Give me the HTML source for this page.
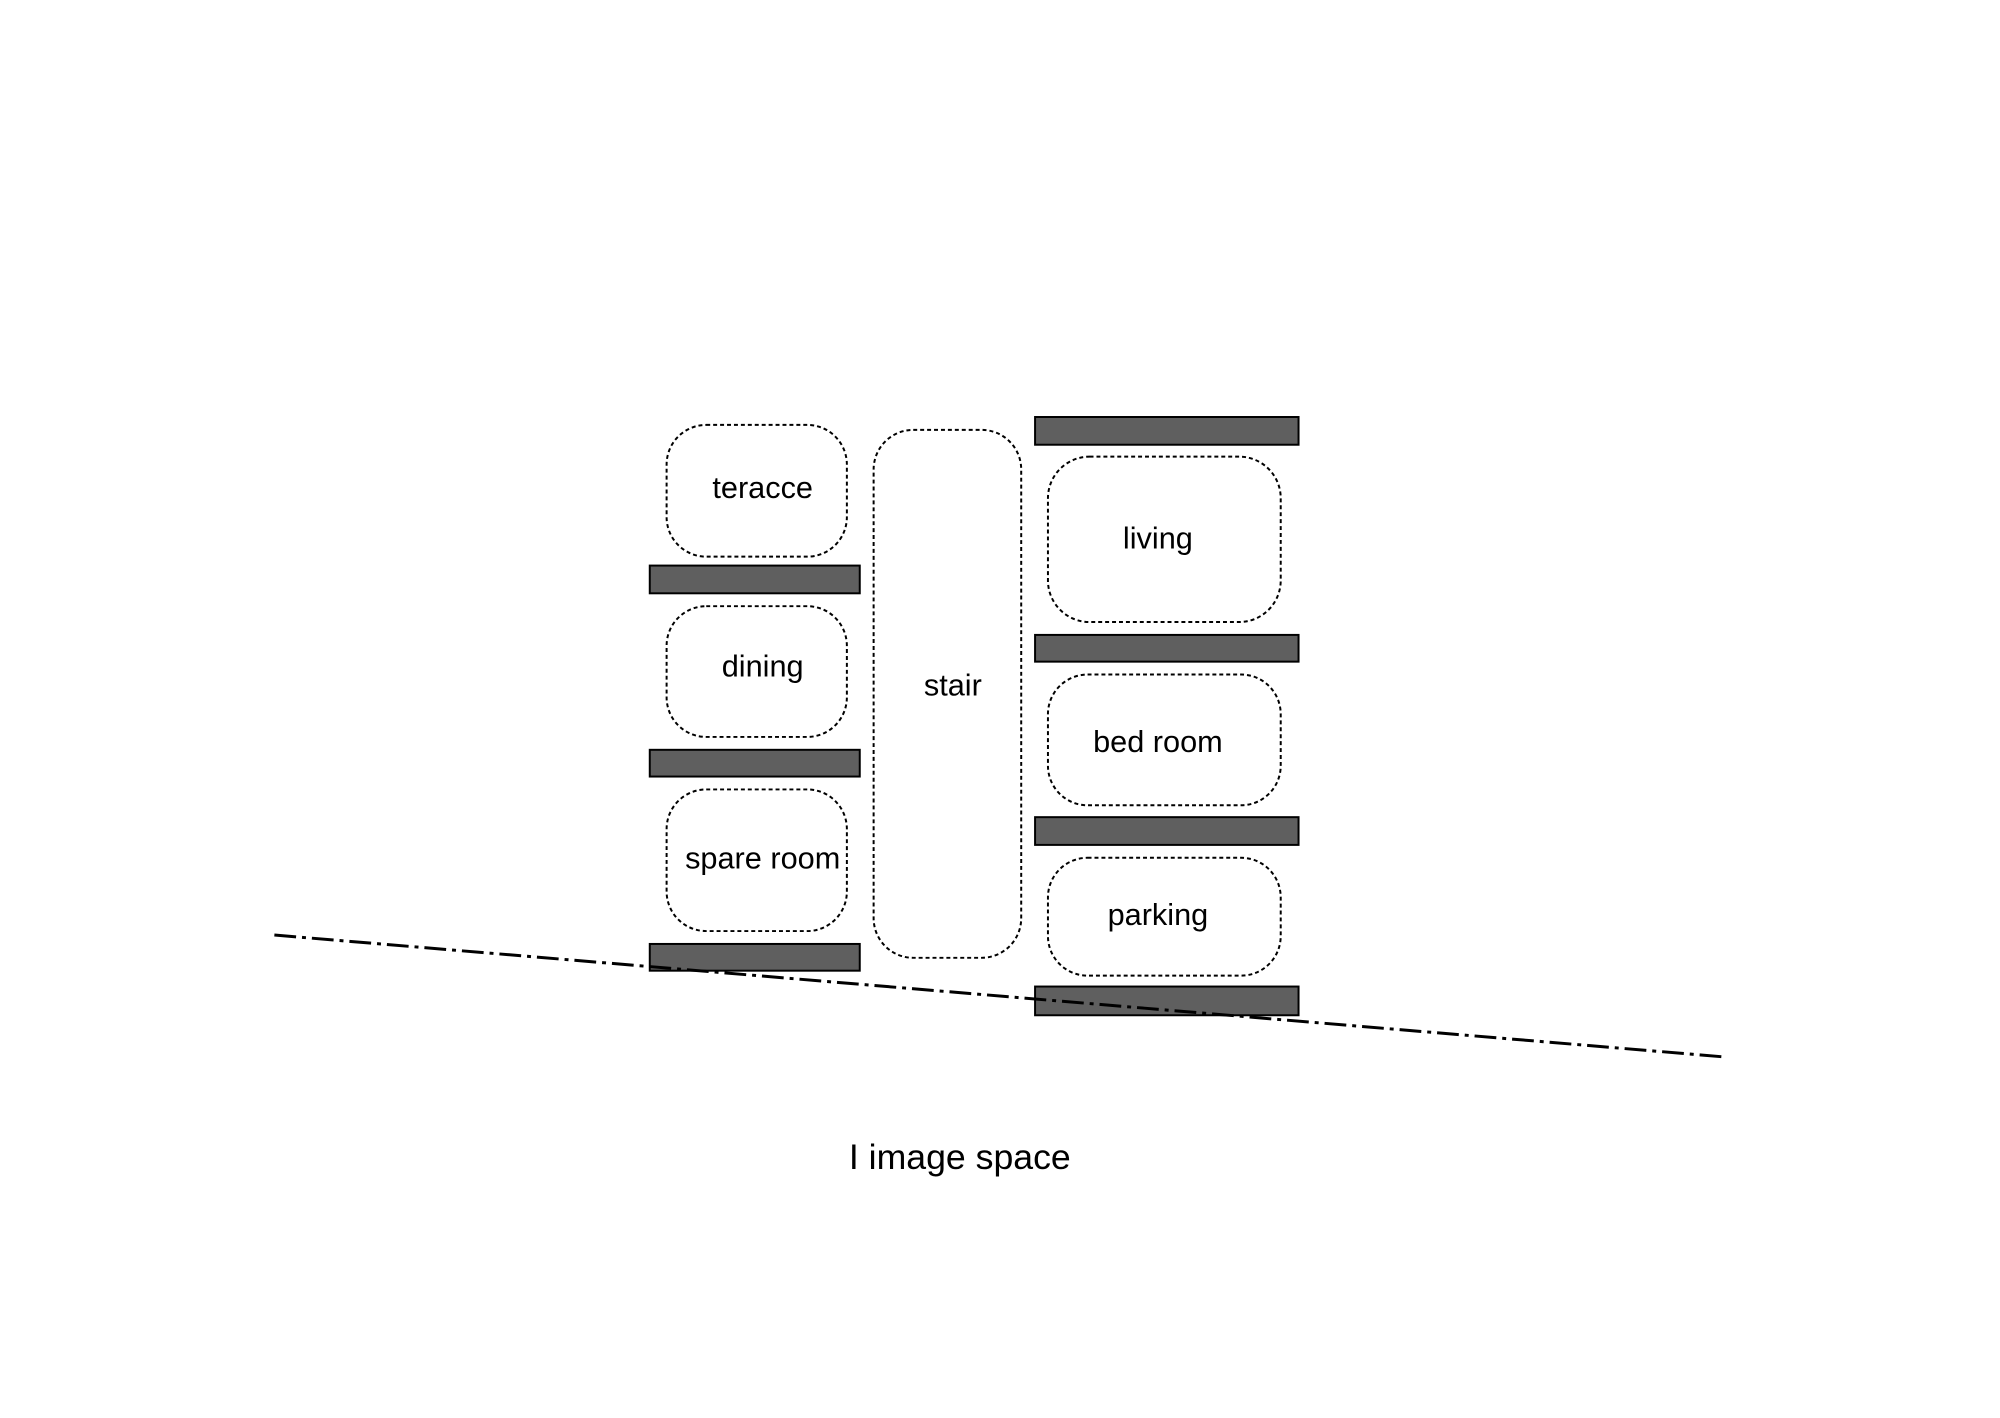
<!DOCTYPE html>
<html><head><meta charset="utf-8"><style>body{margin:0;background:#fff}</style></head><body>
<svg width="2000" height="1413" xmlns="http://www.w3.org/2000/svg" font-family="Liberation Sans, sans-serif">
<rect width="2000" height="1413" fill="#fff"/>
<g transform="scale(0.9905)">
<g fill="none" stroke="#000" stroke-width="2" stroke-dasharray="4,3">
<rect x="673" y="429" width="182" height="133" rx="40"/>
<rect x="673" y="612" width="182" height="132" rx="40"/>
<rect x="673" y="797" width="182" height="143" rx="40"/>
<rect x="882" y="434" width="149" height="533" rx="40"/>
<rect x="1058" y="461" width="235" height="167" rx="42"/>
<rect x="1058" y="681" width="235" height="132" rx="40"/>
<rect x="1058" y="866" width="235" height="119" rx="40"/>
</g>
<g fill="#5f5f5f" stroke="#000" stroke-width="2">
<rect x="656" y="571" width="212" height="28"/>
<rect x="656" y="757" width="212" height="27"/>
<rect x="656" y="953" width="212" height="27"/>
<rect x="1045" y="421" width="266" height="28"/>
<rect x="1045" y="641" width="266" height="27"/>
<rect x="1045" y="825" width="266" height="28"/>
<rect x="1045" y="996" width="266" height="29"/>
</g>
<line x1="277" y1="944" x2="1740" y2="1067" stroke="#000" stroke-width="3" stroke-dasharray="22,6,4,6"/>
<g font-size="31" text-anchor="middle" fill="#000">
<text x="770" y="503">teracce</text>
<text x="770" y="683">dining</text>
<text x="770" y="877">spare room</text>
<text x="962" y="702">stair</text>
<text x="1169" y="554">living</text>
<text x="1169" y="759">bed room</text>
<text x="1169" y="934">parking</text>
<text x="969" y="1180" font-size="36">I image space</text>
</g>
</g>
</svg>
</body></html>
